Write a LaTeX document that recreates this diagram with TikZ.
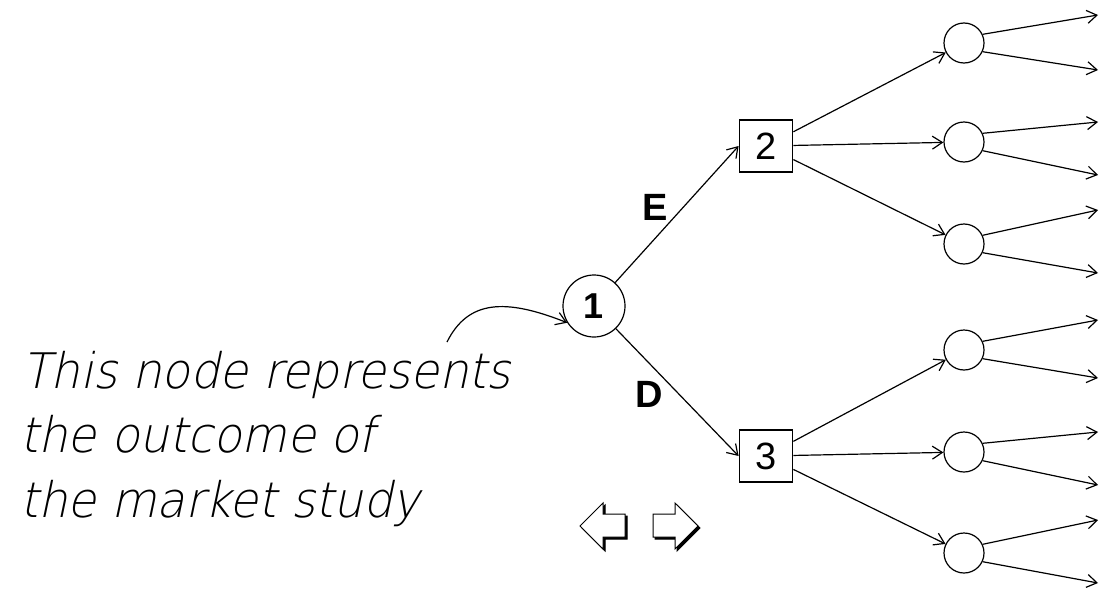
\documentclass[tikz,border=0pt]{standalone}
\usepackage{fontspec}
\setmainfont{Liberation Sans}
\newfontfamily\notefont{DejaVu Sans ExtraLight}[FakeSlant=0.22]
\usetikzlibrary{arrows.meta}
\begin{document}
\begin{tikzpicture}[x=1pt,y=-1pt,
  barb/.style={-{Straight Barb[length=10pt,width=13pt,line width=1.2pt]}},
  branch/.style={line width=1.2pt,barb},
  chance/.style={circle,draw,line width=1.2pt,minimum size=40pt,inner sep=0pt},
  outcome/.style={circle,draw,line width=1.2pt,minimum size=62pt,inner sep=0pt,
    font=\bfseries\fontsize{36}{36}\selectfont},
  decision/.style={rectangle,draw,line width=1.8pt,minimum width=53pt,minimum height=52pt,
    inner sep=0pt,font=\fontsize{38}{38}\selectfont},
  lbl/.style={inner sep=0pt,font=\bfseries\fontsize{38}{38}\selectfont},
  note/.style={anchor=base west,inner sep=0pt,xscale=0.95,
    font=\notefont\fontsize{49}{49}\selectfont},
  hollow/.style={draw=black,fill=white,line width=1pt,line join=miter},
  shadow/.style={fill=black,draw=black,line width=1pt}]
\useasboundingbox (0,0) rectangle (1100,589);

% market study outcome and the two decisions
\node[outcome]  (n1) at (594,306) {1};
\node[decision] (b2) at (766,146) {2};
\node[decision] (b3) at (766,456) {3};

\draw[branch] (n1) -- (b2.west);
\draw[branch] (n1) -- (b3.west);
\node[lbl] (lE) at (655,207) {E};
\node[lbl] (lD) at (649,394) {D};

% chance nodes after each decision
\foreach \i/\y in {1/43,2/142,3/244,4/350,5/452,6/553}
  \node[chance] (c\i) at (964,\y) {};

\draw[branch] (b2) -- (c1);
\draw[branch] (b2) -- (c2);
\draw[branch] (b2) -- (c3);
\draw[branch] (b3) -- (c4);
\draw[branch] (b3) -- (c5);
\draw[branch] (b3) -- (c6);

% outgoing branches of the chance nodes
\foreach \i/\ya/\yb in {1/15/70,2/122/175,3/210/273,4/320/378,5/432/485,6/520/583}{
  \coordinate (u\i) at (1098,\ya);
  \coordinate (d\i) at (1098,\yb);
  \draw[branch] (c\i.25) -- (u\i);
  \draw[branch] (c\i.-25) -- (d\i);
}

% explanatory note with its pointer
\node[note] (t1) at (22,388) {This node represents};
\node[note] (t2) at (20,452) {the outcome of};
\node[note] (t3) at (20,517) {the market study};
\coordinate (ns) at (447,342);
\draw[branch] (ns) .. controls (468,300) and (505,298) .. (n1.212);

% navigation arrows
\fill[shadow] ([shift={(2,2)}]580,526) -- ++(23,-23) -- ++(0,11) -- ++(22,0) -- ++(0,23) -- ++(-22,0) -- ++(0,12) -- cycle;
\draw[hollow] (580,526) -- ++(23,-23) -- ++(0,11) -- ++(22,0) -- ++(0,23) -- ++(-22,0) -- ++(0,12) -- cycle;
\fill[shadow] ([shift={(2,2)}]698,526) -- ++(-23,-23) -- ++(0,11) -- ++(-22,0) -- ++(0,23) -- ++(22,0) -- ++(0,12) -- cycle;
\draw[hollow] (698,526) -- ++(-23,-23) -- ++(0,11) -- ++(-22,0) -- ++(0,23) -- ++(22,0) -- ++(0,12) -- cycle;
\end{tikzpicture}
\end{document}
